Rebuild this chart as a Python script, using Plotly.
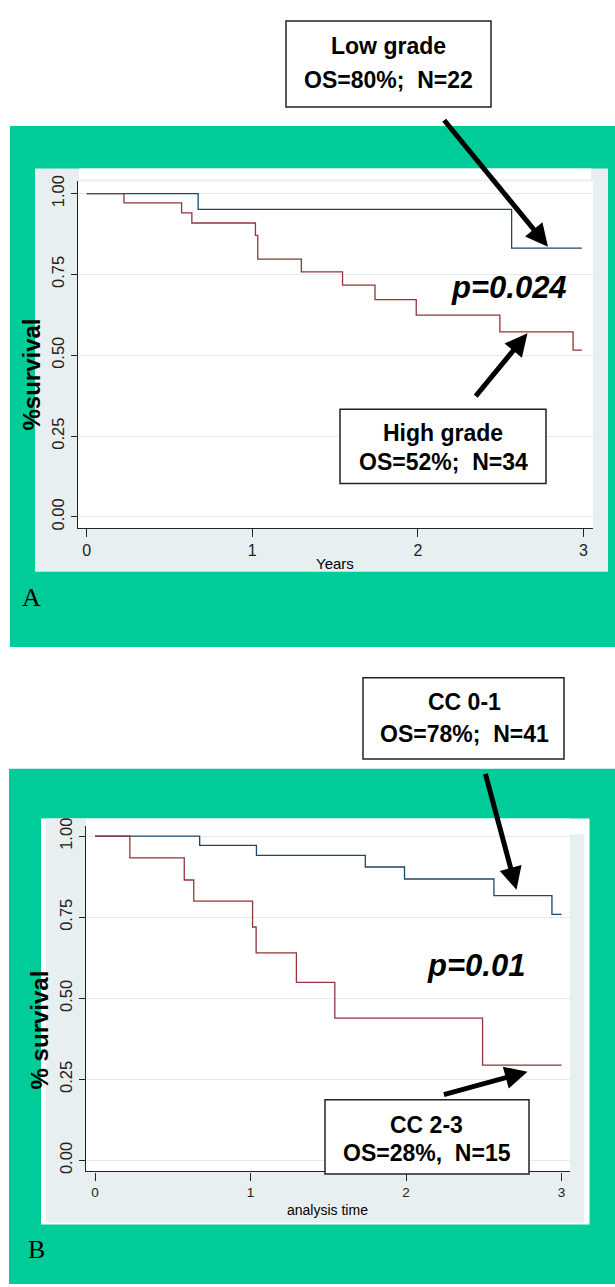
import plotly.graph_objects as go

# ---------------- data ----------------
# Panel A (tumour grade)
a_low_t = [0, 0.673, 2.566, 2.99]
a_low_s = [1.0, 0.951, 0.831, 0.831]
a_high_t = [0, 0.225, 0.573, 0.635, 1.019, 1.033, 1.296, 1.545, 1.741, 1.990, 2.495, 2.937, 2.99]
a_high_s = [1.0, 0.971, 0.940, 0.909, 0.871, 0.797, 0.758, 0.717, 0.672, 0.624, 0.572, 0.516, 0.516]
# Panel B (CC score)
b_low_t = [0, 0.673, 1.038, 1.738, 1.990, 2.565, 2.938, 3.0]
b_low_s = [1.0, 0.972, 0.941, 0.905, 0.868, 0.817, 0.759, 0.759]
b_high_t = [0, 0.224, 0.574, 0.635, 1.013, 1.036, 1.295, 1.542, 2.492, 3.0]
b_high_s = [1.0, 0.933, 0.865, 0.800, 0.720, 0.640, 0.549, 0.439, 0.294, 0.294]

x_ticks = [0, 1, 2, 3]
y_ticks = [0, 0.25, 0.5, 0.75, 1.0]
y_tick_labels = ["0.00", "0.25", "0.50", "0.75", "1.00"]

W, H = 615, 1287
def px(x):
    return x / W
def py(y):
    return 1 - y / H

BLUE = "#1a476f"
RED = "#90353b"
GREEN = "#00cc99"
GRAY = "#e8eff1"
SANS = "Liberation Sans, Arial, sans-serif"
SERIF = "Liberation Serif, Times New Roman, serif"

fig = go.Figure()
fig.add_trace(go.Scatter(x=a_low_t, y=a_low_s, mode="lines", line=dict(color=BLUE, width=1.3, shape="hv"),
                         xaxis="x", yaxis="y", showlegend=False))
fig.add_trace(go.Scatter(x=a_high_t, y=a_high_s, mode="lines", line=dict(color=RED, width=1.3, shape="hv"),
                         xaxis="x", yaxis="y", showlegend=False))
fig.add_trace(go.Scatter(x=b_low_t, y=b_low_s, mode="lines", line=dict(color=BLUE, width=1.3, shape="hv"),
                         xaxis="x2", yaxis="y2", showlegend=False))
fig.add_trace(go.Scatter(x=b_high_t, y=b_high_s, mode="lines", line=dict(color=RED, width=1.3, shape="hv"),
                         xaxis="x2", yaxis="y2", showlegend=False))

shapes = []
def rect(x0, y0, x1, y1, fill, line_color=None, lw=0, layer="below"):
    shapes.append(dict(type="rect", xref="paper", yref="paper",
                       x0=px(x0), x1=px(x1), y0=py(y1), y1=py(y0),
                       fillcolor=fill, layer=layer,
                       line=dict(color=line_color or fill, width=lw)))

# Panel A backgrounds
rect(10, 118, 615, 644, GREEN)
rect(35, 161, 608, 568, GRAY)
rect(79, 161, 591, 172, "white")
rect(78, 174, 593, 524, "white")
# Panel B backgrounds
rect(9, 767, 615, 1287, GREEN)
rect(41, 817, 589.5, 1227, "white")
rect(46, 833, 584, 1225, GRAY)
rect(46, 817, 86, 833, GRAY)
rect(86, 817, 570, 1173, "white")

# label boxes
rect(286, 12, 491, 99, "white", "#222222", 1.5, layer="above")
rect(340, 404, 546, 479, "white", "#222222", 1.5, layer="above")
rect(363, 675, 564, 757, "white", "#222222", 1.5, layer="above")
rect(325, 1101, 529, 1176, "white", "#222222", 1.5, layer="above")

annotations = []
def text(x, y, s, size, family=SANS, angle=0, color="black"):
    annotations.append(dict(x=px(x), y=py(y), xref="paper", yref="paper", text=s,
                            showarrow=False, xanchor="center", yanchor="middle",
                            textangle=angle, font=dict(family=family, size=size, color=color)))

def arrow(tail, tip):
    annotations.append(dict(x=px(tip[0]), y=py(tip[1]), xref="paper", yref="paper",
                            ax=tail[0] - tip[0], ay=tail[1] - tip[1], axref="pixel", ayref="pixel",
                            text="", showarrow=True, arrowhead=2, arrowsize=0.9, arrowwidth=5,
                            arrowcolor="black", standoff=0, startstandoff=0))

# Box texts
text(388, 37, "<b>Low grade</b>", 23)
text(388, 72, "<b>OS=80%;  N=22</b>", 23)
text(443, 428, "<b>High grade</b>", 23)
text(443, 457, "<b>OS=52%;  N=34</b>", 23)
text(464, 700, "<b>CC 0-1</b>", 23)
text(464, 732, "<b>OS=78%;  N=41</b>", 23)
text(426.5, 1127, "<b>CC 2-3</b>", 23)
text(426.5, 1155, "<b>OS=28%,  N=15</b>", 23)

# p values
text(509, 281, "<b><i>p=0.024</i></b>", 31)
text(476, 965, "<b><i>p=0.01</i></b>", 31)

# axis titles
text(32, 369, "<b>%survival</b>", 24, angle=-90)
text(39, 1031, "<b>% survival</b>", 24, angle=-90)
text(335, 560, "Years", 15)
text(327.6, 1212, "analysis time", 14)

# panel letters
text(31, 594, "A", 26, family=SERIF)
text(36.7, 1252, "B", 26, family=SERIF)

# arrows
arrow((443, 112), (548, 240))
arrow((474.5, 391.7), (527.5, 327.3))
arrow((485, 771.7), (516.5, 889))
arrow((442.4, 1096), (527.5, 1072.7))

axis_common = dict(showline=True, linecolor="#222222", linewidth=1.3, ticks="outside",
                   tickcolor="#222222", tickwidth=1.2, zeroline=False)

fig.update_layout(
    width=W, height=H, autosize=False,
    margin=dict(l=0, r=0, t=0, b=0),
    paper_bgcolor="white", plot_bgcolor="white",
    shapes=shapes, annotations=annotations,
    xaxis=dict(domain=[px(78), px(593)], range=[(78 - 86.7) / 165.6, (593 - 86.7) / 165.6],
               tickvals=x_ticks, ticklen=8, showgrid=False, anchor="y",
               tickfont=dict(family=SANS, size=16, color="#222222"), **axis_common),
    yaxis=dict(domain=[py(524), py(174)], range=[(512.7 - 524) / 326.4, (512.7 - 174) / 326.4],
               tickvals=y_ticks, ticktext=y_tick_labels, tickangle=-90, ticklen=6,
               showgrid=True, gridcolor="#e3ecec", gridwidth=1, anchor="x",
               tickfont=dict(family=SANS, size=16.5, color="#222222"), **axis_common),
    xaxis2=dict(domain=[px(86), px(570)], range=[(86 - 95) / 155.53, (570 - 95) / 155.53],
                tickvals=x_ticks, ticklen=8, showgrid=False, anchor="y2",
                tickfont=dict(family=SANS, size=13.5, color="#222222"), **axis_common),
    yaxis2=dict(domain=[py(1173.3), py(825)], range=[(1162.3 - 1173.3) / 327.3, (1162.3 - 825) / 327.3],
                tickvals=y_ticks, ticktext=y_tick_labels, tickangle=-90, ticklen=6,
                showgrid=True, gridcolor="#e3ecec", gridwidth=1, anchor="x2",
                tickfont=dict(family=SANS, size=16.5, color="#222222"), **axis_common),
)

fig.write_html("out.html", config={"displayModeBar": False},
               post_script="document.body.style.margin='0';document.body.style.overflow='hidden';")
